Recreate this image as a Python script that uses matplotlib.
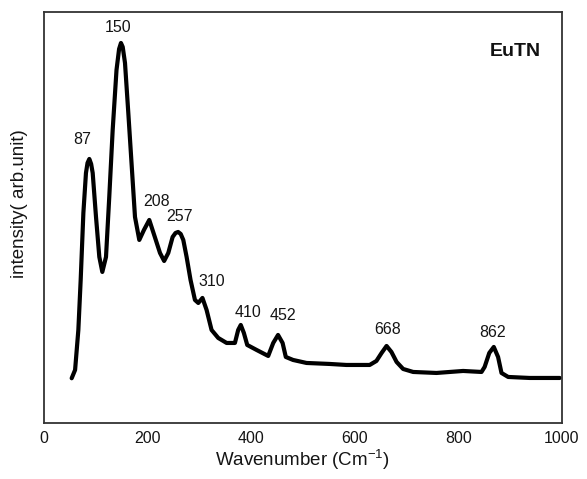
import matplotlib
matplotlib.use("Agg")
import matplotlib.pyplot as plt

plt.rcParams['font.family'] = ['Liberation Sans', 'DejaVu Sans']
plt.rcParams['mathtext.default'] = 'regular'

# Raman spectrum (wavenumber, intensity in arbitrary units)
wavenumber = [53.4, 60, 66.3, 70.8, 76, 81, 84, 87.5, 91, 94, 100.4, 106.8, 112.6, 119.7, 126,
              132.6, 140, 145, 148.6, 152, 156.4, 162.8, 169, 175.7, 184, 193, 203.3, 214,
              224, 232, 240, 248.4, 254, 259, 264, 269, 275.4, 283, 291.5, 298, 306, 314,
              323.6, 336.5, 352.7, 368.7, 375, 380, 386, 392.5, 410.6, 433, 442.7, 452,
              460.8, 467, 481, 507, 552, 584, 629, 642, 652, 661.6, 671, 681, 693.6, 713,
              758, 809.5, 845, 851, 860, 868.7, 877, 883.6, 896.5, 938, 996]
intensity = [44.7, 53, 93, 143, 210, 250, 260, 264, 259, 250, 206, 166, 151, 166, 226,
             293, 353, 374, 380, 376, 360, 310, 260, 206, 183, 193, 203, 186,
             170, 162, 170, 186, 190, 191, 189, 183, 166, 143, 123, 120, 125, 113,
             93, 85, 80, 80, 93, 98, 90, 78, 73, 67, 80, 88,
             80, 66, 63, 60, 59, 58, 58, 62, 70, 77, 71, 61, 54, 51,
             50, 52, 51, 56, 70, 76, 66, 50, 46, 45, 45]

peak_labels = ["87", "150", "208", "257", "310", "410", "452", "668", "862"]
label_x = [73, 143.5, 217.5, 261, 323.6, 394, 461, 663, 867]
label_y = [283, 395, 221, 206, 141, 110, 107, 93, 90]

xticks = [0, 200, 400, 600, 800, 1000]

fig = plt.figure(figsize=(5.87, 4.79), dpi=100)
ax = fig.add_axes([0.075, 0.117, 0.882, 0.858])

ax.plot(wavenumber, intensity, color='black', lw=3.0, solid_joinstyle='round',
        solid_capstyle='round')

for t, x, y in zip(peak_labels, label_x, label_y):
    ax.text(x, y, t, ha='center', va='center', fontsize=11.5, color='#151515')

ax.text(911, 371, "EuTN", ha='center', va='center', fontsize=14, fontweight='bold',
        color='#111111')

ax.set_xlim(0, 1000)
ax.set_ylim(0, 411)
ax.set_xticks(xticks)
ax.set_xticklabels([str(t) for t in xticks])
ax.set_yticks([])
ax.tick_params(axis='x', length=0, pad=6, labelsize=11.5, colors='#151515')

ax.set_xlabel("Wavenumber (Cm$^{-1}$)", fontsize=13.5, color='#151515')
ax.set_ylabel("intensity( arb.unit)", fontsize=13.5, color='#151515')
ax.xaxis.set_label_coords(0.5, -0.06)
ax.yaxis.set_label_coords(-0.03, 0.533)

for s in ax.spines.values():
    s.set_color('#333333')
    s.set_linewidth(1.3)

fig.savefig("out.png", dpi=100)
